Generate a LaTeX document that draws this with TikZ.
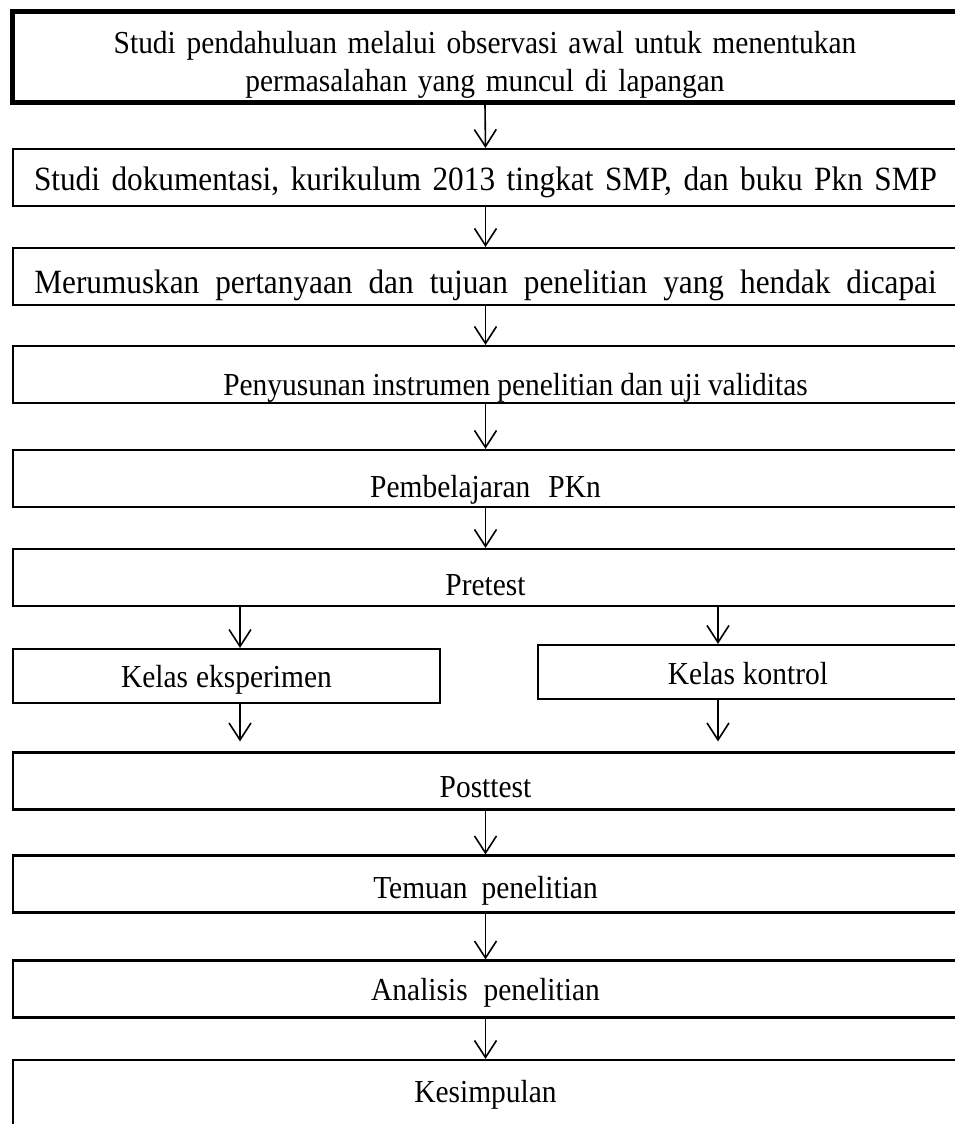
\documentclass[tikz,border=0pt]{standalone}
\usepackage{fontspec}
\setmainfont[FakeStretch=0.92]{Liberation Serif}
\usetikzlibrary{arrows.meta}

\begin{document}
\begin{tikzpicture}[x=1pt, y=-1pt,
    box/.style={draw, line width=2.2pt, minimum width=945pt, minimum height=57pt,
                inner sep=0pt, font={\fontsize{32}{38}\selectfont\spaceskip=#1\relax}},
    box/.default=14pt,
    wide/.style={font={\fontsize{34}{40}\selectfont\spaceskip=#1\relax}},
    txt/.style={text height=#1, text depth=0pt},
    arr/.style={line width=1.6pt, -{Straight Barb[length=17pt, width=22pt]}}]
\useasboundingbox (0,0) rectangle (954,1124);

% main column
\node[box=14pt, line width=5pt, minimum width=946pt, minimum height=90pt,
      text width=940pt, align=center, text height=22pt, text depth=30pt] (studi)  at (485,57)
      {Studi pendahuluan melalui observasi awal untuk menentukan\\ permasalahan yang muncul di lapangan};
\node[box, wide=11.5pt, txt=26pt] (dokumen) at (485.5,177.5) {Studi dokumentasi, kurikulum 2013 tingkat SMP, dan buku Pkn SMP};
\node[box, wide=16pt, txt=34pt] (rumus)   at (485.5,276.5) {Merumuskan pertanyaan dan tujuan penelitian yang hendak dicapai};
\node[box=7pt, txt=42pt]  (instrum) at (485.5,374.5) {\hspace*{60pt}Penyusunan instrumen penelitian dan uji validitas};
\node[box=18pt, txt=38pt] (ajar)    at (485.5,478.5) {Pembelajaran PKn};
\node[box, txt=36pt]      (pre)     at (485.5,577.5) {Pretest};

% two classes
\node[box=8pt, txt=22pt, minimum width=427pt, minimum height=54pt] (eksp)    at (226.5,676) {Kelas eksperimen};
\node[box=8pt, txt=24pt, minimum width=420pt, minimum height=54pt] (kontrol) at (748,672)   {Kelas kontrol};

\node[box, txt=33pt]      (post)    at (485.5,781)  {Posttest};
\node[box=14pt, txt=29pt] (temuan)  at (485.5,884)  {Temuan penelitian};
\node[box=16pt, txt=23pt] (analis)  at (485.5,989)  {Analisis penelitian};
\node[box, txt=15pt, minimum height=70pt] (simpul) at (485.5,1095) {Kesimpulan};

% branch lines
\coordinate (lx) at (240,0);
\coordinate (rx) at (718,0);

%------------------------------------------------------
% arrows
\draw[arr] (studi.south)   -- (dokumen.north);
\draw[arr] (dokumen.south) -- (rumus.north);
\draw[arr] (rumus.south)   -- (instrum.north);
\draw[arr] (instrum.south) -- (ajar.north);
\draw[arr] (ajar.south)    -- (pre.north);

\draw[arr] (pre.south -| lx) -- (eksp.north -| lx);
\draw[arr] (pre.south -| rx) -- (kontrol.north -| rx);
\draw[arr] (eksp.south -| lx)    -- ([yshift=10pt]post.north -| lx);
\draw[arr] (kontrol.south -| rx) -- ([yshift=10pt]post.north -| rx);

\draw[arr] (post.south)    -- (temuan.north);
\draw[arr] (temuan.south)  -- (analis.north);
\draw[arr] (analis.south)  -- (simpul.north);
\end{tikzpicture}
\end{document}
